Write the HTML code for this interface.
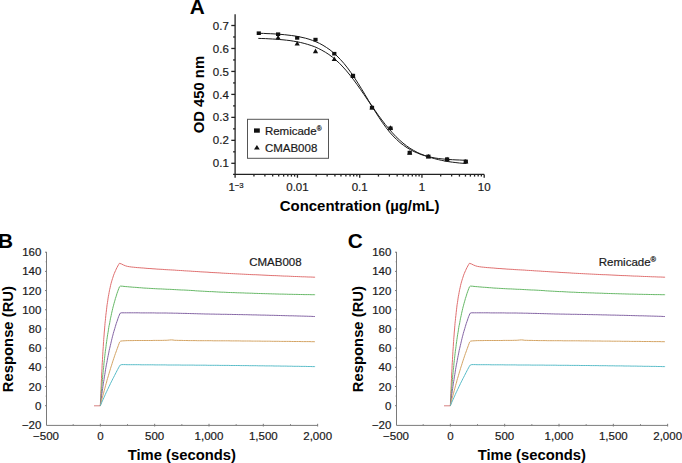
<!DOCTYPE html>
<html><head><meta charset="utf-8"><style>
html,body{margin:0;padding:0;background:#fff;overflow:hidden;}
svg{display:block;}
text{font-family:"Liberation Sans",sans-serif;fill:#1a1a1a;}
.tk{font-size:11.5px;stroke:#1a1a1a;stroke-width:0.2px;}
.bl{font-size:20.8px;font-weight:bold;fill:#000;}
.bl2{font-size:14.8px;font-weight:bold;fill:#000;}
.ax1{stroke:#222;stroke-width:1.3;fill:none;}
.ax2{stroke:#7a7a7a;stroke-width:1;fill:none;}
.crv{stroke:#1a1a1a;stroke-width:1;fill:none;}
</style></head><body>
<svg width="682" height="463" viewBox="0 0 682 463">
<text x="189.8" y="14.2" class="bl">A</text>
<path d="M235.1,14.3 V177.7 M233.1,174.4 H484.20" class="ax1"/>
<path d="M231.3,163.30 H235.1" class="ax1"/>
<text x="228.8" y="167.40" class="tk" text-anchor="end">0.1</text>
<path d="M231.3,140.33 H235.1" class="ax1"/>
<text x="228.8" y="144.43" class="tk" text-anchor="end">0.2</text>
<path d="M231.3,117.37 H235.1" class="ax1"/>
<text x="228.8" y="121.47" class="tk" text-anchor="end">0.3</text>
<path d="M231.3,94.40 H235.1" class="ax1"/>
<text x="228.8" y="98.50" class="tk" text-anchor="end">0.4</text>
<path d="M231.3,71.43 H235.1" class="ax1"/>
<text x="228.8" y="75.53" class="tk" text-anchor="end">0.5</text>
<path d="M231.3,48.47 H235.1" class="ax1"/>
<text x="228.8" y="52.57" class="tk" text-anchor="end">0.6</text>
<path d="M231.3,25.50 H235.1" class="ax1"/>
<text x="228.8" y="29.60" class="tk" text-anchor="end">0.7</text>
<path d="M233.1,151.82 H235.1" class="ax1"/>
<path d="M233.1,128.85 H235.1" class="ax1"/>
<path d="M233.1,105.88 H235.1" class="ax1"/>
<path d="M233.1,82.92 H235.1" class="ax1"/>
<path d="M233.1,59.95 H235.1" class="ax1"/>
<path d="M233.1,36.98 H235.1" class="ax1"/>
<path d="M253.94,174.4 V176.6" class="ax1"/>
<path d="M264.90,174.4 V176.6" class="ax1"/>
<path d="M272.68,174.4 V176.6" class="ax1"/>
<path d="M278.71,174.4 V176.6" class="ax1"/>
<path d="M283.64,174.4 V176.6" class="ax1"/>
<path d="M287.81,174.4 V176.6" class="ax1"/>
<path d="M291.42,174.4 V176.6" class="ax1"/>
<path d="M294.60,174.4 V176.6" class="ax1"/>
<path d="M297.45,174.4 V177.70000000000002" class="ax1"/>
<path d="M316.19,174.4 V176.6" class="ax1"/>
<path d="M327.15,174.4 V176.6" class="ax1"/>
<path d="M334.93,174.4 V176.6" class="ax1"/>
<path d="M340.96,174.4 V176.6" class="ax1"/>
<path d="M345.89,174.4 V176.6" class="ax1"/>
<path d="M350.06,174.4 V176.6" class="ax1"/>
<path d="M353.67,174.4 V176.6" class="ax1"/>
<path d="M356.85,174.4 V176.6" class="ax1"/>
<path d="M359.70,174.4 V177.70000000000002" class="ax1"/>
<path d="M378.44,174.4 V176.6" class="ax1"/>
<path d="M389.40,174.4 V176.6" class="ax1"/>
<path d="M397.18,174.4 V176.6" class="ax1"/>
<path d="M403.21,174.4 V176.6" class="ax1"/>
<path d="M408.14,174.4 V176.6" class="ax1"/>
<path d="M412.31,174.4 V176.6" class="ax1"/>
<path d="M415.92,174.4 V176.6" class="ax1"/>
<path d="M419.10,174.4 V176.6" class="ax1"/>
<path d="M421.95,174.4 V177.70000000000002" class="ax1"/>
<path d="M440.69,174.4 V176.6" class="ax1"/>
<path d="M451.65,174.4 V176.6" class="ax1"/>
<path d="M459.43,174.4 V176.6" class="ax1"/>
<path d="M465.46,174.4 V176.6" class="ax1"/>
<path d="M470.39,174.4 V176.6" class="ax1"/>
<path d="M474.56,174.4 V176.6" class="ax1"/>
<path d="M478.17,174.4 V176.6" class="ax1"/>
<path d="M481.35,174.4 V176.6" class="ax1"/>
<path d="M484.20,174.4 V177.7" class="ax1"/>
<text x="228.4" y="190.8" class="tk">1<tspan dy="-3.3" font-size="7.8">−3</tspan></text>
<text x="297.45" y="190.8" class="tk" text-anchor="middle">0.01</text>
<text x="359.70" y="190.8" class="tk" text-anchor="middle">0.1</text>
<text x="421.95" y="190.8" class="tk" text-anchor="middle">1</text>
<text x="484.20" y="190.8" class="tk" text-anchor="middle">10</text>
<text x="359.6" y="211.2" class="bl2" text-anchor="middle" style="font-size:14.95px">Concentration (µg/mL)</text>
<text transform="translate(203.6,94.6) rotate(-90)" class="bl2" text-anchor="middle">OD 450 nm</text>
<path d="M260.0,33.3 L263.5,33.4 L267.0,33.6 L270.5,33.7 L274.0,33.9 L277.5,34.1 L281.0,34.4 L284.5,34.7 L288.0,35.1 L291.5,35.5 L295.0,36.0 L298.5,36.6 L302.0,37.4 L305.5,38.2 L309.0,39.2 L312.5,40.4 L316.0,41.8 L319.5,43.4 L323.0,45.3 L326.5,47.5 L330.0,49.9 L333.5,52.8 L337.0,56.0 L340.5,59.6 L344.0,63.5 L347.5,67.9 L351.0,72.7 L354.5,77.8 L358.0,83.2 L361.5,88.8 L365.0,94.6 L368.5,100.5 L372.0,106.3 L375.5,112.0 L379.0,117.5 L382.5,122.7 L386.0,127.5 L389.5,132.0 L393.0,135.9 L396.5,139.4 L400.0,142.6 L403.5,145.3 L407.0,147.7 L410.5,149.7 L414.0,151.6 L417.5,153.1 L421.0,154.5 L424.5,155.6 L428.0,156.6 L431.5,157.3 L435.0,158.0 L438.5,158.5 L442.0,158.9 L445.5,159.2 L449.0,159.5 L452.5,159.7 L456.0,159.9 L459.5,160.0 L463.0,160.2 L466.5,160.3" class="crv"/>
<path d="M258.3,38.4 L261.8,38.5 L265.4,38.6 L268.9,38.8 L272.4,39.0 L275.9,39.2 L279.5,39.5 L283.0,39.8 L286.5,40.2 L290.1,40.6 L293.6,41.2 L297.1,41.8 L300.6,42.5 L304.2,43.4 L307.7,44.4 L311.2,45.5 L314.8,46.8 L318.3,48.4 L321.8,50.2 L325.3,52.2 L328.9,54.5 L332.4,57.1 L335.9,60.1 L339.5,63.3 L343.0,67.0 L346.5,70.9 L350.0,75.2 L353.6,79.8 L357.1,84.6 L360.6,89.6 L364.2,94.8 L367.7,100.0 L371.2,105.1 L374.8,110.2 L378.3,115.2 L381.8,119.9 L385.3,124.5 L388.9,128.8 L392.4,132.8 L395.9,136.6 L399.5,140.0 L403.0,143.1 L406.5,145.8 L410.0,148.3 L413.6,150.4 L417.1,152.3 L420.6,153.9 L424.2,155.3 L427.7,156.6 L431.2,157.7 L434.7,158.7 L438.3,159.6 L441.8,160.4 L445.3,161.1 L448.9,161.7 L452.4,162.2 L455.9,162.6 L459.4,163.0 L463.0,163.3 L466.5,163.5" class="crv"/>
<path d="M275.50,39.50 L278.10,34.90 L280.70,39.50Z" fill="#111"/>
<path d="M294.60,45.60 L297.20,41.00 L299.80,45.60Z" fill="#111"/>
<path d="M312.90,53.20 L315.50,48.60 L318.10,53.20Z" fill="#111"/>
<path d="M331.70,61.10 L334.30,56.50 L336.90,61.10Z" fill="#111"/>
<path d="M350.40,78.00 L353.00,73.40 L355.60,78.00Z" fill="#111"/>
<path d="M369.40,109.40 L372.00,104.80 L374.60,109.40Z" fill="#111"/>
<path d="M387.90,129.80 L390.50,125.20 L393.10,129.80Z" fill="#111"/>
<path d="M407.10,154.80 L409.70,150.20 L412.30,154.80Z" fill="#111"/>
<path d="M425.80,158.60 L428.40,154.00 L431.00,158.60Z" fill="#111"/>
<path d="M444.50,161.40 L447.10,156.80 L449.70,161.40Z" fill="#111"/>
<path d="M463.20,163.60 L465.80,159.00 L468.40,163.60Z" fill="#111"/>
<rect x="256.70" y="31.40" width="4.2" height="3.6" fill="#111"/>
<rect x="276.00" y="32.40" width="4.2" height="3.6" fill="#111"/>
<rect x="295.10" y="36.10" width="4.2" height="3.6" fill="#111"/>
<rect x="313.40" y="37.80" width="4.2" height="3.6" fill="#111"/>
<rect x="332.20" y="51.90" width="4.2" height="3.6" fill="#111"/>
<rect x="350.90" y="73.80" width="4.2" height="3.6" fill="#111"/>
<rect x="369.90" y="105.80" width="4.2" height="3.6" fill="#111"/>
<rect x="388.40" y="126.50" width="4.2" height="3.6" fill="#111"/>
<rect x="407.60" y="150.80" width="4.2" height="3.6" fill="#111"/>
<rect x="426.30" y="154.60" width="4.2" height="3.6" fill="#111"/>
<rect x="445.00" y="157.40" width="4.2" height="3.6" fill="#111"/>
<rect x="463.70" y="159.60" width="4.2" height="3.6" fill="#111"/>
<rect x="247.5" y="119.3" width="81" height="39" fill="#fff" stroke="#555" stroke-width="1"/>
<rect x="254" y="128.4" width="5.8" height="4.3" fill="#111"/>
<path d="M254,149.6 L256.9,145 L259.8,149.6Z" fill="#111"/>
<text x="264.9" y="134.7" class="tk">Remicade<tspan dy="-3.6" font-size="6.6">®</tspan></text>
<text x="264.9" y="151.8" class="tk">CMAB008</text>
<text x="-1.9" y="247.8" class="bl">B</text>
<path d="M46.5,251.9 V425.4 H317.9" class="ax2"/>
<text x="41.4" y="428.89" class="tk" text-anchor="end">−20</text>
<path d="M45,405.70 H46.5" class="ax2"/>
<text x="41.4" y="409.70" class="tk" text-anchor="end">0</text>
<path d="M45.7,396.11 H46.5" class="ax2"/>
<path d="M45,386.51 H46.5" class="ax2"/>
<text x="41.4" y="390.51" class="tk" text-anchor="end">20</text>
<path d="M45.7,376.92 H46.5" class="ax2"/>
<path d="M45,367.32 H46.5" class="ax2"/>
<text x="41.4" y="371.32" class="tk" text-anchor="end">40</text>
<path d="M45.7,357.73 H46.5" class="ax2"/>
<path d="M45,348.14 H46.5" class="ax2"/>
<text x="41.4" y="352.14" class="tk" text-anchor="end">60</text>
<path d="M45.7,338.54 H46.5" class="ax2"/>
<path d="M45,328.95 H46.5" class="ax2"/>
<text x="41.4" y="332.95" class="tk" text-anchor="end">80</text>
<path d="M45.7,319.35 H46.5" class="ax2"/>
<path d="M45,309.76 H46.5" class="ax2"/>
<text x="41.4" y="313.76" class="tk" text-anchor="end">100</text>
<path d="M45.7,300.17 H46.5" class="ax2"/>
<path d="M45,290.57 H46.5" class="ax2"/>
<text x="41.4" y="294.57" class="tk" text-anchor="end">120</text>
<path d="M45.7,280.98 H46.5" class="ax2"/>
<path d="M45,271.38 H46.5" class="ax2"/>
<text x="41.4" y="275.38" class="tk" text-anchor="end">140</text>
<path d="M45.7,261.79 H46.5" class="ax2"/>
<path d="M45,252.20 H46.5" class="ax2"/>
<text x="41.4" y="256.20" class="tk" text-anchor="end">160</text>
<text x="46.02" y="440.1" class="tk" text-anchor="middle">−500</text>
<path d="M73.19,425.4 V424.2" class="ax2"/>
<path d="M100.35,426.5 V423.8" class="ax2"/>
<text x="100.35" y="440.1" class="tk" text-anchor="middle">0</text>
<path d="M127.51,425.4 V424.2" class="ax2"/>
<path d="M154.67,426.5 V423.8" class="ax2"/>
<text x="154.67" y="440.1" class="tk" text-anchor="middle">500</text>
<path d="M181.84,425.4 V424.2" class="ax2"/>
<path d="M209.00,426.5 V423.8" class="ax2"/>
<text x="209.00" y="440.1" class="tk" text-anchor="middle">1,000</text>
<path d="M236.16,425.4 V424.2" class="ax2"/>
<path d="M263.32,426.5 V423.8" class="ax2"/>
<text x="263.32" y="440.1" class="tk" text-anchor="middle">1,500</text>
<path d="M290.49,425.4 V424.2" class="ax2"/>
<path d="M317.65,426.5 V423.8" class="ax2"/>
<text x="317.65" y="440.1" class="tk" text-anchor="middle">2,000</text>
<text x="181.8" y="460.2" class="bl2" text-anchor="middle">Time (seconds)</text>
<text transform="translate(12.8,339.1) rotate(-90)" class="bl2" text-anchor="middle">Response (RU)</text>
<path d="M94,405.8 H100.4" stroke="#d88080" fill="none" stroke-width="1"/>
<path d="M100.3,405.7 L100.5,401.4 L100.7,397.3 L100.8,393.3 L101.0,389.4 L101.2,385.7 L101.3,382.1 L101.5,378.5 L101.6,375.1 L101.8,371.8 L102.0,368.6 L102.1,365.5 L102.3,362.5 L102.5,359.6 L102.6,356.8 L102.8,354.1 L102.9,351.4 L103.1,348.9 L103.3,346.4 L103.4,344.0 L103.6,341.6 L103.7,339.4 L103.9,337.2 L104.1,335.0 L104.2,333.0 L104.4,331.0 L104.6,329.0 L104.7,327.1 L104.9,325.3 L105.0,323.5 L105.2,321.8 L105.4,320.2 L105.5,318.5 L105.7,317.0 L105.8,315.4 L106.2,312.5 L106.5,309.8 L106.8,307.2 L107.1,304.7 L107.5,302.4 L107.8,300.2 L108.1,298.1 L108.4,296.2 L108.8,294.3 L109.1,292.5 L109.4,290.9 L109.7,289.3 L110.1,287.8 L110.5,285.7 L111.0,283.7 L111.5,281.9 L112.0,280.2 L112.5,278.6 L113.0,277.1 L113.6,275.2 L114.3,273.5 L114.9,272.0 L115.6,270.5 L116.2,269.1 L117.0,267.5 L117.8,266.0 L118.6,264.6 L119.4,263.3 L121.6,264.0 L123.5,265.0 L125.5,265.8 L127.5,266.4 L129.4,266.7 L131.4,267.0 L133.4,267.2 L135.3,267.4 L137.3,267.6 L139.2,267.7 L141.2,267.9 L143.2,268.0 L145.1,268.2 L147.1,268.4 L149.1,268.5 L151.0,268.6 L153.0,268.8 L155.0,268.9 L156.9,269.1 L158.9,269.2 L160.9,269.3 L162.8,269.4 L164.8,269.6 L166.8,269.7 L168.7,269.8 L170.7,269.9 L172.7,270.0 L174.6,270.1 L176.6,270.3 L178.5,270.4 L180.5,270.5 L182.5,270.6 L184.4,270.8 L186.4,270.9 L188.4,271.0 L190.3,271.1 L192.3,271.3 L194.3,271.4 L196.2,271.5 L198.2,271.6 L200.2,271.8 L202.1,271.9 L204.1,272.0 L206.1,272.1 L208.0,272.2 L210.0,272.4 L211.9,272.5 L213.9,272.6 L215.9,272.7 L217.8,272.8 L219.8,272.9 L221.8,273.1 L223.7,273.2 L225.7,273.3 L227.7,273.4 L229.6,273.5 L231.6,273.6 L233.6,273.7 L235.5,273.8 L237.5,273.9 L239.5,274.0 L241.4,274.1 L243.4,274.2 L245.3,274.3 L247.3,274.4 L249.3,274.5 L251.2,274.6 L253.2,274.7 L255.2,274.7 L257.1,274.8 L259.1,274.9 L261.1,275.0 L263.0,275.1 L265.0,275.2 L267.0,275.3 L268.9,275.4 L270.9,275.5 L272.9,275.6 L274.8,275.6 L276.8,275.7 L278.8,275.8 L280.7,275.9 L282.7,276.0 L284.6,276.1 L286.6,276.1 L288.6,276.2 L290.5,276.3 L292.5,276.4 L294.5,276.5 L296.4,276.5 L298.4,276.6 L300.4,276.7 L302.3,276.8 L304.3,276.8 L306.3,276.9 L308.2,277.0 L310.2,277.0 L312.2,277.1 L314.1,277.2 L315.1,277.2" stroke="#e07070" fill="none" stroke-width="1"/>
<path d="M100.3,405.7 L100.5,404.0 L100.6,402.2 L100.7,400.5 L100.9,398.7 L101.0,397.0 L101.1,395.2 L101.3,393.5 L101.4,391.7 L101.5,390.0 L101.7,388.3 L101.8,386.5 L102.0,384.8 L102.1,383.0 L102.3,381.3 L102.4,379.5 L102.6,377.8 L102.7,376.0 L102.9,374.3 L103.1,372.6 L103.2,370.8 L103.4,369.1 L103.6,367.3 L103.8,365.6 L103.9,363.9 L104.1,362.1 L104.3,360.4 L104.5,358.6 L104.7,356.9 L104.9,355.2 L105.1,353.4 L105.3,351.7 L105.5,349.9 L105.8,348.2 L106.0,346.5 L106.2,344.7 L106.4,343.0 L106.7,341.3 L106.9,339.5 L107.2,337.8 L107.4,336.1 L107.7,334.3 L108.0,332.6 L108.3,330.9 L108.5,329.2 L108.8,327.4 L109.1,325.7 L109.5,324.0 L109.8,322.3 L110.1,320.6 L110.4,318.8 L110.8,317.1 L111.2,315.4 L111.5,313.7 L111.9,312.0 L112.3,310.3 L112.7,308.6 L113.1,306.9 L113.6,305.2 L114.0,303.5 L114.5,301.8 L115.0,300.1 L115.4,298.5 L116.0,296.8 L116.5,295.1 L117.0,293.4 L117.6,291.8 L118.2,290.1 L118.8,288.5 L119.4,286.9 L120.5,286.1 L122.3,286.2 L124.0,286.4 L125.8,286.6 L127.5,286.7 L129.2,286.9 L131.0,287.0 L132.7,287.2 L134.5,287.3 L136.2,287.4 L138.0,287.6 L139.7,287.7 L141.5,287.8 L143.2,288.0 L145.0,288.1 L146.7,288.2 L148.4,288.3 L150.2,288.4 L151.9,288.5 L153.7,288.6 L155.4,288.7 L157.2,288.8 L158.9,288.9 L160.7,288.9 L162.4,289.0 L164.2,289.1 L165.9,289.2 L167.7,289.3 L169.4,289.3 L171.2,289.4 L172.9,289.5 L174.7,289.6 L176.4,289.7 L178.2,289.8 L179.9,289.9 L181.7,290.0 L183.4,290.0 L185.1,290.1 L186.9,290.2 L188.6,290.3 L190.4,290.4 L192.1,290.5 L193.9,290.6 L195.6,290.8 L197.4,290.9 L199.1,291.0 L200.9,291.1 L202.6,291.2 L204.4,291.3 L206.1,291.4 L207.9,291.5 L209.6,291.6 L211.4,291.6 L213.1,291.7 L214.9,291.8 L216.6,291.9 L218.3,292.0 L220.1,292.1 L221.8,292.2 L223.6,292.2 L225.3,292.3 L227.1,292.4 L228.8,292.5 L230.6,292.5 L232.3,292.6 L234.1,292.6 L235.8,292.7 L237.6,292.8 L239.3,292.8 L241.1,292.9 L242.8,292.9 L244.6,293.0 L246.3,293.1 L248.1,293.1 L249.8,293.2 L251.6,293.2 L253.3,293.3 L255.1,293.4 L256.8,293.4 L258.6,293.5 L260.3,293.5 L262.1,293.6 L263.8,293.6 L265.6,293.7 L267.3,293.7 L269.1,293.8 L270.8,293.8 L272.6,293.9 L274.3,293.9 L276.1,294.0 L277.8,294.0 L279.6,294.1 L281.3,294.1 L283.1,294.1 L284.8,294.2 L286.6,294.2 L288.3,294.3 L290.1,294.3 L291.8,294.3 L293.6,294.4 L295.3,294.4 L297.1,294.4 L298.8,294.5 L300.6,294.5 L302.3,294.5 L304.1,294.6 L305.8,294.6 L307.6,294.6 L309.3,294.6 L311.1,294.7 L312.8,294.7 L314.6,294.7 L315.1,294.7" stroke="#66b866" fill="none" stroke-width="1"/>
<path d="M100.3,405.7 L100.6,404.0 L100.8,402.2 L101.0,400.5 L101.2,398.8 L101.5,397.0 L101.7,395.3 L101.9,393.6 L102.2,391.8 L102.4,390.1 L102.7,388.4 L102.9,386.6 L103.2,384.9 L103.4,383.2 L103.7,381.4 L104.0,379.7 L104.2,378.0 L104.5,376.2 L104.8,374.5 L105.1,372.8 L105.3,371.1 L105.6,369.3 L105.9,367.6 L106.2,365.9 L106.5,364.2 L106.9,362.4 L107.2,360.7 L107.5,359.0 L107.8,357.3 L108.2,355.6 L108.5,353.9 L108.9,352.1 L109.2,350.4 L109.6,348.7 L110.0,347.0 L110.4,345.3 L110.8,343.6 L111.2,341.9 L111.6,340.2 L112.0,338.5 L112.4,336.8 L112.9,335.1 L113.3,333.4 L113.8,331.7 L114.3,330.0 L114.8,328.4 L115.3,326.7 L115.8,325.0 L116.3,323.4 L116.9,321.7 L117.5,320.0 L118.0,318.4 L118.6,316.7 L119.3,315.1 L119.9,313.5 L121.2,312.8 L123.0,312.8 L124.7,312.8 L126.5,312.8 L128.2,312.8 L130.0,312.8 L131.7,312.8 L133.5,312.8 L135.2,312.8 L137.0,312.8 L138.7,312.8 L140.5,312.9 L142.2,312.9 L144.0,312.9 L145.7,312.9 L147.5,312.9 L149.2,312.9 L151.0,312.9 L152.7,312.9 L154.5,312.9 L156.2,313.0 L158.0,313.0 L159.7,313.0 L161.5,313.0 L163.2,313.0 L165.0,313.0 L166.7,313.0 L168.5,313.1 L170.2,313.1 L172.0,313.1 L173.7,313.2 L175.5,313.2 L177.2,313.2 L179.0,313.3 L180.7,313.3 L182.5,313.4 L184.2,313.4 L186.0,313.4 L187.7,313.5 L189.5,313.5 L191.2,313.6 L192.9,313.6 L194.7,313.7 L196.4,313.7 L198.2,313.8 L199.9,313.8 L201.7,313.9 L203.4,313.9 L205.2,314.0 L206.9,314.0 L208.7,314.0 L210.4,314.1 L212.2,314.1 L213.9,314.1 L215.7,314.2 L217.4,314.2 L219.2,314.2 L220.9,314.3 L222.7,314.3 L224.4,314.3 L226.2,314.3 L227.9,314.4 L229.7,314.4 L231.4,314.4 L233.2,314.5 L234.9,314.5 L236.7,314.5 L238.4,314.6 L240.2,314.6 L241.9,314.6 L243.7,314.7 L245.4,314.7 L247.2,314.7 L248.9,314.8 L250.7,314.8 L252.4,314.9 L254.2,314.9 L255.9,314.9 L257.7,315.0 L259.4,315.0 L261.2,315.1 L262.9,315.1 L264.7,315.1 L266.4,315.2 L268.2,315.2 L269.9,315.3 L271.7,315.3 L273.4,315.3 L275.2,315.4 L276.9,315.4 L278.7,315.5 L280.4,315.5 L282.2,315.6 L283.9,315.6 L285.7,315.7 L287.4,315.7 L289.2,315.8 L290.9,315.8 L292.7,315.8 L294.4,315.9 L296.2,315.9 L297.9,316.0 L299.7,316.0 L301.4,316.1 L303.2,316.1 L304.9,316.2 L306.7,316.2 L308.4,316.3 L310.2,316.3 L311.9,316.4 L313.7,316.5 L314.9,316.5" stroke="#8464a4" fill="none" stroke-width="1"/>
<path d="M100.3,405.7 L100.8,404.0 L101.2,402.3 L101.6,400.6 L102.0,398.9 L102.5,397.2 L102.9,395.5 L103.4,393.8 L103.8,392.1 L104.3,390.4 L104.7,388.8 L105.2,387.1 L105.6,385.4 L106.1,383.7 L106.6,382.0 L107.0,380.3 L107.5,378.6 L108.0,377.0 L108.5,375.3 L109.0,373.6 L109.5,371.9 L110.0,370.2 L110.5,368.6 L111.0,366.9 L111.6,365.2 L112.1,363.6 L112.6,361.9 L113.2,360.2 L113.7,358.6 L114.3,356.9 L114.8,355.3 L115.4,353.6 L116.0,352.0 L116.6,350.3 L117.2,348.7 L117.8,347.0 L118.4,345.4 L119.0,343.7 L119.6,342.1 L120.7,341.1 L122.3,340.9 L124.1,340.8 L125.8,340.7 L127.6,340.6 L129.3,340.6 L131.1,340.6 L132.8,340.6 L134.6,340.5 L136.3,340.5 L138.1,340.5 L139.8,340.5 L141.6,340.5 L143.3,340.5 L145.1,340.5 L146.8,340.5 L148.6,340.5 L150.3,340.5 L152.1,340.5 L153.8,340.4 L155.6,340.4 L157.3,340.4 L159.1,340.4 L160.8,340.4 L162.6,340.4 L164.3,340.3 L166.1,340.3 L167.8,340.2 L169.6,340.0 L171.3,339.9 L173.0,340.0 L174.8,340.3 L176.5,340.3 L178.3,340.4 L180.0,340.4 L181.8,340.4 L183.5,340.5 L185.3,340.5 L187.0,340.5 L188.8,340.6 L190.5,340.6 L192.3,340.6 L194.0,340.6 L195.8,340.6 L197.5,340.7 L199.3,340.7 L201.0,340.7 L202.8,340.7 L204.5,340.7 L206.3,340.7 L208.0,340.7 L209.8,340.7 L211.5,340.7 L213.3,340.8 L215.0,340.8 L216.8,340.8 L218.5,340.8 L220.3,340.8 L222.0,340.8 L223.8,340.8 L225.5,340.8 L227.3,340.8 L229.0,340.8 L230.8,340.9 L232.5,340.9 L234.3,340.9 L236.0,340.9 L237.8,340.9 L239.5,340.9 L241.3,341.0 L243.0,341.0 L244.8,341.0 L246.5,341.0 L248.3,341.0 L250.0,341.0 L251.8,341.1 L253.3,341.1 L254.8,341.1 L256.5,341.1 L258.3,341.1 L260.0,341.1 L261.5,341.2 L263.3,341.2 L265.0,341.2 L266.5,341.2 L268.3,341.2 L269.8,341.2 L271.5,341.3 L273.3,341.3 L275.0,341.3 L276.8,341.3 L278.5,341.3 L280.3,341.4 L281.8,341.4 L283.3,341.4 L285.0,341.4 L286.5,341.4 L288.3,341.4 L290.0,341.4 L291.5,341.5 L293.3,341.5 L295.0,341.5 L296.7,341.5 L298.5,341.5 L300.0,341.5 L301.7,341.6 L303.5,341.6 L305.0,341.6 L306.7,341.6 L308.2,341.6 L310.0,341.6 L311.5,341.7 L313.0,341.7 L314.7,341.7 L315.0,341.7" stroke="#d4a464" fill="none" stroke-width="1"/>
<path d="M100.4,405.7 L101.0,404.1 L101.7,402.5 L102.4,400.9 L103.2,399.3 L103.9,397.7 L104.6,396.1 L105.3,394.5 L106.0,392.9 L106.8,391.3 L107.5,389.7 L108.3,388.2 L109.0,386.6 L109.8,385.0 L110.5,383.4 L111.3,381.9 L112.1,380.3 L112.9,378.7 L113.7,377.2 L114.5,375.6 L115.3,374.0 L116.1,372.5 L116.9,370.9 L117.7,369.4 L118.5,367.9 L119.4,366.3 L120.3,365.0 L121.8,364.6 L123.6,364.6 L125.3,364.6 L127.1,364.7 L128.8,364.7 L130.6,364.7 L132.3,364.7 L134.1,364.7 L135.8,364.7 L137.6,364.7 L139.3,364.7 L141.1,364.8 L142.8,364.8 L144.6,364.8 L146.3,364.8 L148.1,364.8 L149.8,364.8 L151.6,364.8 L153.3,364.8 L155.1,364.9 L156.8,364.9 L158.6,364.9 L160.3,364.9 L162.1,364.9 L163.8,364.9 L165.6,364.9 L167.3,365.0 L169.1,365.0 L170.8,365.0 L172.6,365.0 L174.3,365.0 L176.1,365.0 L177.8,365.0 L179.6,365.0 L181.3,365.1 L183.1,365.1 L184.8,365.1 L186.6,365.1 L188.3,365.1 L190.1,365.1 L191.8,365.1 L193.6,365.1 L195.3,365.2 L197.1,365.2 L198.8,365.2 L200.6,365.2 L202.3,365.2 L204.1,365.2 L205.8,365.2 L207.6,365.3 L209.3,365.3 L211.1,365.3 L212.8,365.3 L214.6,365.3 L216.3,365.3 L218.1,365.3 L219.8,365.4 L221.6,365.4 L223.3,365.4 L225.1,365.4 L226.8,365.4 L228.6,365.4 L230.3,365.5 L232.1,365.5 L233.8,365.5 L235.6,365.5 L237.3,365.5 L239.1,365.5 L240.8,365.6 L242.6,365.6 L244.3,365.6 L246.1,365.6 L247.8,365.6 L249.6,365.7 L251.3,365.7 L253.1,365.7 L254.8,365.7 L256.6,365.7 L258.3,365.8 L260.1,365.8 L261.8,365.8 L263.6,365.8 L265.3,365.9 L267.1,365.9 L268.8,365.9 L270.6,365.9 L272.3,365.9 L274.1,366.0 L275.8,366.0 L277.6,366.0 L279.3,366.0 L281.1,366.1 L282.8,366.1 L284.6,366.1 L286.3,366.1 L288.1,366.2 L289.8,366.2 L291.6,366.2 L293.3,366.3 L295.1,366.3 L296.8,366.3 L298.6,366.3 L300.3,366.4 L302.1,366.4 L303.8,366.4 L305.6,366.4 L307.3,366.5 L309.1,366.5 L310.8,366.5 L312.6,366.6 L314.3,366.6 L315.1,366.6" stroke="#58bcc8" fill="none" stroke-width="1"/>
<text x="249.2" y="265.6" class="tk">CMAB008</text>
<text x="347.8" y="247.8" class="bl">C</text>
<path d="M396.5,251.9 V425.4 H667.9" class="ax2"/>
<text x="391.4" y="428.89" class="tk" text-anchor="end">−20</text>
<path d="M395,405.70 H396.5" class="ax2"/>
<text x="391.4" y="409.70" class="tk" text-anchor="end">0</text>
<path d="M395.7,396.11 H396.5" class="ax2"/>
<path d="M395,386.51 H396.5" class="ax2"/>
<text x="391.4" y="390.51" class="tk" text-anchor="end">20</text>
<path d="M395.7,376.92 H396.5" class="ax2"/>
<path d="M395,367.32 H396.5" class="ax2"/>
<text x="391.4" y="371.32" class="tk" text-anchor="end">40</text>
<path d="M395.7,357.73 H396.5" class="ax2"/>
<path d="M395,348.14 H396.5" class="ax2"/>
<text x="391.4" y="352.14" class="tk" text-anchor="end">60</text>
<path d="M395.7,338.54 H396.5" class="ax2"/>
<path d="M395,328.95 H396.5" class="ax2"/>
<text x="391.4" y="332.95" class="tk" text-anchor="end">80</text>
<path d="M395.7,319.35 H396.5" class="ax2"/>
<path d="M395,309.76 H396.5" class="ax2"/>
<text x="391.4" y="313.76" class="tk" text-anchor="end">100</text>
<path d="M395.7,300.17 H396.5" class="ax2"/>
<path d="M395,290.57 H396.5" class="ax2"/>
<text x="391.4" y="294.57" class="tk" text-anchor="end">120</text>
<path d="M395.7,280.98 H396.5" class="ax2"/>
<path d="M395,271.38 H396.5" class="ax2"/>
<text x="391.4" y="275.38" class="tk" text-anchor="end">140</text>
<path d="M395.7,261.79 H396.5" class="ax2"/>
<path d="M395,252.20 H396.5" class="ax2"/>
<text x="391.4" y="256.20" class="tk" text-anchor="end">160</text>
<text x="396.02" y="440.1" class="tk" text-anchor="middle">−500</text>
<path d="M423.19,425.4 V424.2" class="ax2"/>
<path d="M450.35,426.5 V423.8" class="ax2"/>
<text x="450.35" y="440.1" class="tk" text-anchor="middle">0</text>
<path d="M477.51,425.4 V424.2" class="ax2"/>
<path d="M504.67,426.5 V423.8" class="ax2"/>
<text x="504.67" y="440.1" class="tk" text-anchor="middle">500</text>
<path d="M531.84,425.4 V424.2" class="ax2"/>
<path d="M559.00,426.5 V423.8" class="ax2"/>
<text x="559.00" y="440.1" class="tk" text-anchor="middle">1,000</text>
<path d="M586.16,425.4 V424.2" class="ax2"/>
<path d="M613.33,426.5 V423.8" class="ax2"/>
<text x="613.33" y="440.1" class="tk" text-anchor="middle">1,500</text>
<path d="M640.49,425.4 V424.2" class="ax2"/>
<path d="M667.65,426.5 V423.8" class="ax2"/>
<text x="667.65" y="440.1" class="tk" text-anchor="middle">2,000</text>
<text x="531.8" y="460.2" class="bl2" text-anchor="middle">Time (seconds)</text>
<text transform="translate(362.8,339.1) rotate(-90)" class="bl2" text-anchor="middle">Response (RU)</text>
<path d="M444,405.8 H450.4" stroke="#d88080" fill="none" stroke-width="1"/>
<path d="M450.4,405.7 L450.5,401.4 L450.7,397.3 L450.8,393.3 L451.0,389.4 L451.2,385.7 L451.3,382.1 L451.5,378.5 L451.6,375.1 L451.8,371.8 L452.0,368.6 L452.1,365.5 L452.3,362.5 L452.5,359.6 L452.6,356.8 L452.8,354.1 L452.9,351.4 L453.1,348.9 L453.3,346.4 L453.4,344.0 L453.6,341.6 L453.7,339.4 L453.9,337.2 L454.1,335.0 L454.2,333.0 L454.4,331.0 L454.6,329.0 L454.7,327.1 L454.9,325.3 L455.0,323.5 L455.2,321.8 L455.4,320.2 L455.5,318.5 L455.7,317.0 L455.9,315.4 L456.2,312.5 L456.5,309.8 L456.8,307.2 L457.1,304.7 L457.5,302.4 L457.8,300.2 L458.1,298.1 L458.4,296.2 L458.8,294.3 L459.1,292.5 L459.4,290.9 L459.7,289.3 L460.1,287.8 L460.5,285.7 L461.0,283.7 L461.5,281.9 L462.0,280.2 L462.5,278.6 L463.0,277.1 L463.6,275.2 L464.3,273.5 L464.9,272.0 L465.6,270.5 L466.2,269.1 L467.0,267.5 L467.8,266.0 L468.6,264.6 L469.4,263.3 L471.6,264.0 L473.5,265.0 L475.5,265.8 L477.5,266.4 L479.4,266.7 L481.4,267.0 L483.4,267.2 L485.3,267.4 L487.3,267.6 L489.2,267.7 L491.2,267.9 L493.2,268.0 L495.1,268.2 L497.1,268.4 L499.1,268.5 L501.0,268.6 L503.0,268.8 L505.0,268.9 L506.9,269.1 L508.9,269.2 L510.9,269.3 L512.8,269.4 L514.8,269.6 L516.8,269.7 L518.7,269.8 L520.7,269.9 L522.7,270.0 L524.6,270.1 L526.6,270.3 L528.5,270.4 L530.5,270.5 L532.5,270.6 L534.4,270.8 L536.4,270.9 L538.4,271.0 L540.3,271.1 L542.3,271.3 L544.3,271.4 L546.2,271.5 L548.2,271.6 L550.2,271.8 L552.1,271.9 L554.1,272.0 L556.1,272.1 L558.0,272.2 L560.0,272.4 L561.9,272.5 L563.9,272.6 L565.9,272.7 L567.8,272.8 L569.8,272.9 L571.8,273.1 L573.7,273.2 L575.7,273.3 L577.7,273.4 L579.6,273.5 L581.6,273.6 L583.6,273.7 L585.5,273.8 L587.5,273.9 L589.5,274.0 L591.4,274.1 L593.4,274.2 L595.3,274.3 L597.3,274.4 L599.3,274.5 L601.2,274.6 L603.2,274.7 L605.2,274.7 L607.1,274.8 L609.1,274.9 L611.1,275.0 L613.0,275.1 L615.0,275.2 L617.0,275.3 L618.9,275.4 L620.9,275.5 L622.9,275.6 L624.8,275.6 L626.8,275.7 L628.8,275.8 L630.7,275.9 L632.7,276.0 L634.6,276.1 L636.6,276.1 L638.6,276.2 L640.5,276.3 L642.5,276.4 L644.5,276.5 L646.4,276.5 L648.4,276.6 L650.4,276.7 L652.3,276.8 L654.3,276.8 L656.3,276.9 L658.2,277.0 L660.2,277.0 L662.2,277.1 L664.1,277.2 L665.1,277.2" stroke="#e07070" fill="none" stroke-width="1"/>
<path d="M450.4,405.7 L450.5,404.0 L450.6,402.2 L450.7,400.5 L450.9,398.7 L451.0,397.0 L451.1,395.2 L451.3,393.5 L451.4,391.7 L451.5,390.0 L451.7,388.3 L451.8,386.5 L452.0,384.8 L452.1,383.0 L452.3,381.3 L452.4,379.5 L452.6,377.8 L452.7,376.0 L452.9,374.3 L453.1,372.6 L453.2,370.8 L453.4,369.1 L453.6,367.3 L453.8,365.6 L453.9,363.9 L454.1,362.1 L454.3,360.4 L454.5,358.6 L454.7,356.9 L454.9,355.2 L455.1,353.4 L455.3,351.7 L455.5,349.9 L455.8,348.2 L456.0,346.5 L456.2,344.7 L456.4,343.0 L456.7,341.3 L456.9,339.5 L457.2,337.8 L457.4,336.1 L457.7,334.3 L458.0,332.6 L458.3,330.9 L458.5,329.2 L458.8,327.4 L459.1,325.7 L459.5,324.0 L459.8,322.3 L460.1,320.6 L460.4,318.8 L460.8,317.1 L461.2,315.4 L461.5,313.7 L461.9,312.0 L462.3,310.3 L462.7,308.6 L463.1,306.9 L463.6,305.2 L464.0,303.5 L464.5,301.8 L465.0,300.1 L465.4,298.5 L466.0,296.8 L466.5,295.1 L467.0,293.4 L467.6,291.8 L468.2,290.1 L468.8,288.5 L469.4,286.9 L470.5,286.1 L472.3,286.2 L474.0,286.4 L475.8,286.6 L477.5,286.7 L479.2,286.9 L481.0,287.0 L482.7,287.2 L484.5,287.3 L486.2,287.4 L488.0,287.6 L489.7,287.7 L491.5,287.8 L493.2,288.0 L495.0,288.1 L496.7,288.2 L498.4,288.3 L500.2,288.4 L501.9,288.5 L503.7,288.6 L505.4,288.7 L507.2,288.8 L508.9,288.9 L510.7,288.9 L512.4,289.0 L514.2,289.1 L515.9,289.2 L517.7,289.3 L519.4,289.3 L521.2,289.4 L522.9,289.5 L524.7,289.6 L526.4,289.7 L528.2,289.8 L529.9,289.9 L531.7,290.0 L533.4,290.0 L535.1,290.1 L536.9,290.2 L538.6,290.3 L540.4,290.4 L542.1,290.5 L543.9,290.6 L545.6,290.8 L547.4,290.9 L549.1,291.0 L550.9,291.1 L552.6,291.2 L554.4,291.3 L556.1,291.4 L557.9,291.5 L559.6,291.6 L561.4,291.6 L563.1,291.7 L564.9,291.8 L566.6,291.9 L568.3,292.0 L570.1,292.1 L571.8,292.2 L573.6,292.2 L575.3,292.3 L577.1,292.4 L578.8,292.5 L580.6,292.5 L582.3,292.6 L584.1,292.6 L585.8,292.7 L587.6,292.8 L589.3,292.8 L591.1,292.9 L592.8,292.9 L594.6,293.0 L596.3,293.1 L598.1,293.1 L599.8,293.2 L601.6,293.2 L603.3,293.3 L605.1,293.4 L606.8,293.4 L608.6,293.5 L610.3,293.5 L612.1,293.6 L613.8,293.6 L615.6,293.7 L617.3,293.7 L619.1,293.8 L620.8,293.8 L622.6,293.9 L624.3,293.9 L626.1,294.0 L627.8,294.0 L629.6,294.1 L631.3,294.1 L633.1,294.1 L634.8,294.2 L636.6,294.2 L638.3,294.3 L640.1,294.3 L641.8,294.3 L643.6,294.4 L645.3,294.4 L647.1,294.4 L648.8,294.5 L650.6,294.5 L652.3,294.5 L654.1,294.6 L655.8,294.6 L657.6,294.6 L659.3,294.6 L661.1,294.7 L662.8,294.7 L664.6,294.7 L665.1,294.7" stroke="#66b866" fill="none" stroke-width="1"/>
<path d="M450.4,405.7 L450.6,404.0 L450.8,402.2 L451.0,400.5 L451.2,398.8 L451.5,397.0 L451.7,395.3 L451.9,393.6 L452.2,391.8 L452.4,390.1 L452.7,388.4 L452.9,386.6 L453.2,384.9 L453.4,383.2 L453.7,381.4 L454.0,379.7 L454.2,378.0 L454.5,376.2 L454.8,374.5 L455.1,372.8 L455.3,371.1 L455.6,369.3 L455.9,367.6 L456.2,365.9 L456.5,364.2 L456.9,362.4 L457.2,360.7 L457.5,359.0 L457.8,357.3 L458.2,355.6 L458.5,353.9 L458.9,352.1 L459.2,350.4 L459.6,348.7 L460.0,347.0 L460.4,345.3 L460.8,343.6 L461.2,341.9 L461.6,340.2 L462.0,338.5 L462.4,336.8 L462.9,335.1 L463.3,333.4 L463.8,331.7 L464.3,330.0 L464.8,328.4 L465.3,326.7 L465.8,325.0 L466.3,323.4 L466.9,321.7 L467.5,320.0 L468.0,318.4 L468.6,316.7 L469.3,315.1 L469.9,313.5 L471.2,312.8 L473.0,312.8 L474.7,312.8 L476.5,312.8 L478.2,312.8 L480.0,312.8 L481.7,312.8 L483.5,312.8 L485.2,312.8 L487.0,312.8 L488.7,312.8 L490.5,312.9 L492.2,312.9 L494.0,312.9 L495.7,312.9 L497.5,312.9 L499.2,312.9 L501.0,312.9 L502.7,312.9 L504.5,312.9 L506.2,313.0 L508.0,313.0 L509.7,313.0 L511.5,313.0 L513.2,313.0 L515.0,313.0 L516.7,313.0 L518.5,313.1 L520.2,313.1 L522.0,313.1 L523.7,313.2 L525.5,313.2 L527.2,313.2 L529.0,313.3 L530.7,313.3 L532.5,313.4 L534.2,313.4 L536.0,313.4 L537.7,313.5 L539.5,313.5 L541.2,313.6 L542.9,313.6 L544.7,313.7 L546.4,313.7 L548.2,313.8 L549.9,313.8 L551.7,313.9 L553.4,313.9 L555.2,314.0 L556.9,314.0 L558.7,314.0 L560.4,314.1 L562.2,314.1 L563.9,314.1 L565.7,314.2 L567.4,314.2 L569.2,314.2 L570.9,314.3 L572.7,314.3 L574.4,314.3 L576.2,314.3 L577.9,314.4 L579.7,314.4 L581.4,314.4 L583.2,314.5 L584.9,314.5 L586.7,314.5 L588.4,314.6 L590.2,314.6 L591.9,314.6 L593.7,314.7 L595.4,314.7 L597.2,314.7 L598.9,314.8 L600.7,314.8 L602.4,314.9 L604.2,314.9 L605.9,314.9 L607.7,315.0 L609.4,315.0 L611.2,315.1 L612.9,315.1 L614.7,315.1 L616.4,315.2 L618.2,315.2 L619.9,315.3 L621.7,315.3 L623.4,315.3 L625.2,315.4 L626.9,315.4 L628.7,315.5 L630.4,315.5 L632.2,315.6 L633.9,315.6 L635.7,315.7 L637.4,315.7 L639.2,315.8 L640.9,315.8 L642.7,315.8 L644.4,315.9 L646.2,315.9 L647.9,316.0 L649.7,316.0 L651.4,316.1 L653.2,316.1 L654.9,316.2 L656.7,316.2 L658.4,316.3 L660.2,316.3 L661.9,316.4 L663.7,316.5 L664.9,316.5" stroke="#8464a4" fill="none" stroke-width="1"/>
<path d="M450.4,405.7 L450.8,404.0 L451.2,402.3 L451.6,400.6 L452.0,398.9 L452.5,397.2 L452.9,395.5 L453.4,393.8 L453.8,392.1 L454.3,390.4 L454.7,388.8 L455.2,387.1 L455.6,385.4 L456.1,383.7 L456.6,382.0 L457.0,380.3 L457.5,378.6 L458.0,377.0 L458.5,375.3 L459.0,373.6 L459.5,371.9 L460.0,370.2 L460.5,368.6 L461.0,366.9 L461.6,365.2 L462.1,363.6 L462.6,361.9 L463.2,360.2 L463.7,358.6 L464.3,356.9 L464.8,355.3 L465.4,353.6 L466.0,352.0 L466.6,350.3 L467.2,348.7 L467.8,347.0 L468.4,345.4 L469.0,343.7 L469.6,342.1 L470.7,341.1 L472.3,340.9 L474.1,340.8 L475.8,340.7 L477.6,340.6 L479.3,340.6 L481.1,340.6 L482.8,340.6 L484.6,340.5 L486.3,340.5 L488.1,340.5 L489.8,340.5 L491.6,340.5 L493.3,340.5 L495.1,340.5 L496.8,340.5 L498.6,340.5 L500.3,340.5 L502.1,340.5 L503.8,340.4 L505.6,340.4 L507.3,340.4 L509.1,340.4 L510.8,340.4 L512.6,340.4 L514.3,340.3 L516.1,340.3 L517.8,340.2 L519.6,340.0 L521.3,339.9 L523.0,340.0 L524.8,340.3 L526.5,340.3 L528.3,340.4 L530.0,340.4 L531.8,340.4 L533.5,340.5 L535.3,340.5 L537.0,340.5 L538.8,340.6 L540.5,340.6 L542.3,340.6 L544.0,340.6 L545.8,340.6 L547.5,340.7 L549.3,340.7 L551.0,340.7 L552.8,340.7 L554.5,340.7 L556.3,340.7 L558.0,340.7 L559.8,340.7 L561.5,340.7 L563.3,340.8 L565.0,340.8 L566.8,340.8 L568.5,340.8 L570.3,340.8 L572.0,340.8 L573.8,340.8 L575.5,340.8 L577.3,340.8 L579.0,340.8 L580.8,340.9 L582.5,340.9 L584.3,340.9 L586.0,340.9 L587.8,340.9 L589.5,340.9 L591.3,341.0 L593.0,341.0 L594.8,341.0 L596.5,341.0 L598.3,341.0 L600.0,341.0 L601.8,341.1 L603.3,341.1 L604.8,341.1 L606.5,341.1 L608.3,341.1 L610.0,341.1 L611.5,341.2 L613.3,341.2 L615.0,341.2 L616.5,341.2 L618.3,341.2 L619.8,341.2 L621.5,341.3 L623.3,341.3 L625.0,341.3 L626.8,341.3 L628.5,341.3 L630.3,341.4 L631.8,341.4 L633.3,341.4 L635.0,341.4 L636.5,341.4 L638.3,341.4 L640.0,341.4 L641.5,341.5 L643.3,341.5 L645.0,341.5 L646.7,341.5 L648.5,341.5 L650.0,341.5 L651.7,341.6 L653.5,341.6 L655.0,341.6 L656.7,341.6 L658.2,341.6 L660.0,341.6 L661.5,341.7 L663.0,341.7 L664.7,341.7 L665.0,341.7" stroke="#d4a464" fill="none" stroke-width="1"/>
<path d="M450.4,405.7 L451.0,404.1 L451.7,402.5 L452.4,400.9 L453.2,399.3 L453.9,397.7 L454.6,396.1 L455.3,394.5 L456.0,392.9 L456.8,391.3 L457.5,389.7 L458.3,388.2 L459.0,386.6 L459.8,385.0 L460.5,383.4 L461.3,381.9 L462.1,380.3 L462.9,378.7 L463.7,377.2 L464.5,375.6 L465.3,374.0 L466.1,372.5 L466.9,370.9 L467.7,369.4 L468.5,367.9 L469.4,366.3 L470.3,365.0 L471.8,364.6 L473.6,364.6 L475.3,364.6 L477.1,364.7 L478.8,364.7 L480.6,364.7 L482.3,364.7 L484.1,364.7 L485.8,364.7 L487.6,364.7 L489.3,364.7 L491.1,364.8 L492.8,364.8 L494.6,364.8 L496.3,364.8 L498.1,364.8 L499.8,364.8 L501.6,364.8 L503.3,364.8 L505.1,364.9 L506.8,364.9 L508.6,364.9 L510.3,364.9 L512.1,364.9 L513.8,364.9 L515.6,364.9 L517.3,365.0 L519.1,365.0 L520.8,365.0 L522.6,365.0 L524.3,365.0 L526.1,365.0 L527.8,365.0 L529.6,365.0 L531.3,365.1 L533.1,365.1 L534.8,365.1 L536.6,365.1 L538.3,365.1 L540.1,365.1 L541.8,365.1 L543.6,365.1 L545.3,365.2 L547.1,365.2 L548.8,365.2 L550.6,365.2 L552.3,365.2 L554.1,365.2 L555.8,365.2 L557.6,365.3 L559.3,365.3 L561.1,365.3 L562.8,365.3 L564.6,365.3 L566.3,365.3 L568.1,365.3 L569.8,365.4 L571.6,365.4 L573.3,365.4 L575.1,365.4 L576.8,365.4 L578.6,365.4 L580.3,365.5 L582.1,365.5 L583.8,365.5 L585.6,365.5 L587.3,365.5 L589.1,365.5 L590.8,365.6 L592.6,365.6 L594.3,365.6 L596.1,365.6 L597.8,365.6 L599.6,365.7 L601.3,365.7 L603.1,365.7 L604.8,365.7 L606.6,365.7 L608.3,365.8 L610.1,365.8 L611.8,365.8 L613.6,365.8 L615.3,365.9 L617.1,365.9 L618.8,365.9 L620.6,365.9 L622.3,365.9 L624.1,366.0 L625.8,366.0 L627.6,366.0 L629.3,366.0 L631.1,366.1 L632.8,366.1 L634.6,366.1 L636.3,366.1 L638.1,366.2 L639.8,366.2 L641.6,366.2 L643.3,366.3 L645.1,366.3 L646.8,366.3 L648.6,366.3 L650.3,366.4 L652.1,366.4 L653.8,366.4 L655.6,366.4 L657.3,366.5 L659.1,366.5 L660.8,366.5 L662.6,366.6 L664.3,366.6 L665.1,366.6" stroke="#58bcc8" fill="none" stroke-width="1"/>
<text x="598.8" y="265.7" class="tk">Remicade<tspan dy="-3.9" font-size="7.4">®</tspan></text>
</svg>
</body></html>
